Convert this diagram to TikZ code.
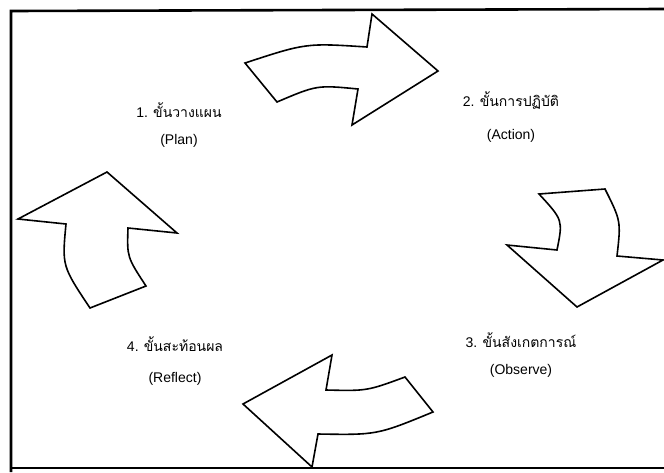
\documentclass[tikz,border=0pt]{standalone}
\usepackage{fontspec}
\setmainfont{Liberation Sans}
\newfontfamily\thaifnt[Script=Thai]{Loma}
\usetikzlibrary{positioning}

\tikzset{
  bend arrow/.style={draw=black,line width=1.6pt,line join=miter,fill=white},
  steplabel/.style={font=\fontsize{14}{16}\selectfont,inner sep=1pt},
  engname/.style={font=\fontsize{14}{16}\selectfont,inner sep=1pt},
}

\begin{document}
\begin{tikzpicture}[x=1pt,y=-1pt]
  \useasboundingbox (0,0) rectangle (664,472);
  % frame (right side is cut off)
  \draw[line width=2.6pt] (664,9) -- (11,11) -- (11,472);
  \draw[line width=2.6pt] (11,468) -- (664,468);

  % plan -> action
  \draw[bend arrow] (245,63) .. controls (306,43) .. (367,47) -- (372,14) -- (438,71)
    -- (352,125) -- (358,89) .. controls (317,85) .. (277,102) -- cycle;
  % action -> observe
  \draw[bend arrow] (605,189) -- (539,194) .. controls (563,220) .. (557,250) -- (507,245)
    -- (577,307) -- (663,260) -- (617,256) .. controls (621,221) .. (605,189) -- cycle;
  % observe -> reflect
  \draw[bend arrow] (332,355) -- (243,404) -- (312,467) -- (318,434)
    .. controls (377,435) .. (433,412) -- (405,377) .. controls (367,391) .. (326,390) -- cycle;
  % reflect -> plan
  \draw[bend arrow] (107,172) -- (177,233) -- (128,228) .. controls (127,257) .. (146,286)
    -- (90,308) .. controls (62,266) .. (66,224) -- (18,219) -- cycle;

  % labels
  \node[steplabel] (plan) at (179,110) {1. {\thaifnt ขั้นวางแผน}};
  \node[engname,below=14pt of plan.south] (planE) {(Plan)};
  \node[steplabel] (act) at (511,100) {2. {\thaifnt ขั้นการปฏิบัติ}};
  \node[engname,below=18pt of act.south] (actE) {(Action)};
  \node[steplabel] (obs) at (521,340) {3. {\thaifnt ขั้นสังเกตการณ์}};
  \node[engname,below=14pt of obs.south] (obsE) {(Observe)};
  \node[steplabel] (refl) at (175,344) {4. {\thaifnt ขั้นสะท้อนผล}};
  \node[engname,below=18pt of refl.south] (reflE) {(Reflect)};
\end{tikzpicture}
\end{document}
